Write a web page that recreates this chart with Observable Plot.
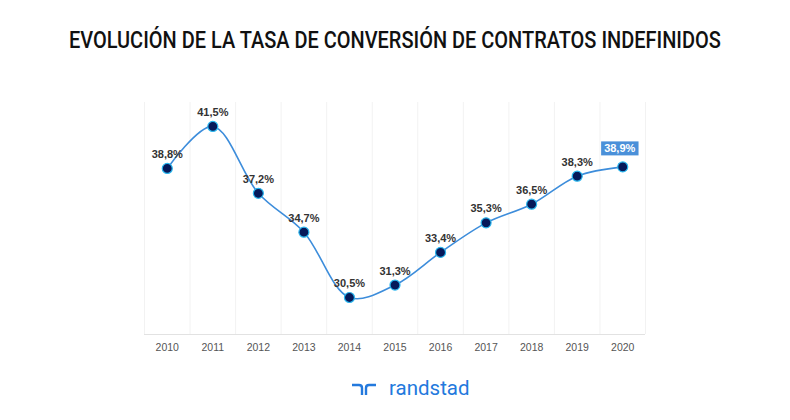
<!DOCTYPE html>
<html>
<head>
<meta charset="utf-8">
<script src="https://cdn.jsdelivr.net/npm/d3@7"></script>
<script src="https://cdn.jsdelivr.net/npm/@observablehq/plot@0.6"></script>
<style>
  html, body { margin: 0; padding: 0; background: #fff; }
  #page { position: relative; width: 790px; height: 420px; overflow: hidden; }
  #title {
    position: absolute; left: 0; top: 26px; width: 790px; height: 32px;
    text-align: center; font-family: Roboto, "Liberation Sans", sans-serif;
    font-weight: 500; font-size: 24px; color: #111; white-space: nowrap;
  }
  #title span { display: inline-block; transform-origin: center; }
  #chart { position: absolute; left: 0; top: 80px; }
  #logo { position: absolute; left: 350px; top: 376px; display: flex; align-items: center; }
  #logo .word { font-family: Roboto, "Liberation Sans", sans-serif; font-size: 20.5px; color: #2379dd; margin-left: 11px; }
</style>
</head>
<body>
<div id="page">
  <div id="title"><span>EVOLUCIÓN DE LA TASA DE CONVERSIÓN DE CONTRATOS INDEFINIDOS</span></div>
  <div id="chart"></div>
  <div id="logo">
    <svg width="28" height="16" viewBox="0 0 28 16">
      <path d="M2 5 H9 Q12 5 12 8 V15" fill="none" stroke="#2379dd" stroke-width="2.4"/>
      <path d="M16 15 V8 Q16 5 19 5 H26" fill="none" stroke="#2379dd" stroke-width="2.4"/>
    </svg>
    <span class="word">randstad</span>
  </div>
</div>
<script>
// Conversion rate of permanent contracts, by year (%)
const years = [2010, 2011, 2012, 2013, 2014, 2015, 2016, 2017, 2018, 2019, 2020];
const rates = [38.8, 41.5, 37.2, 34.7, 30.5, 31.3, 33.4, 35.3, 36.5, 38.3, 38.9];

const data = years.map((year, i) => ({year, rate: rates[i]}));
const fmt = v => v.toFixed(1).replace(".", ",") + "%";
const lastYear = years[years.length - 1];

// Column separators sit halfway between consecutive years
const separators = [...years.map(y => y - 0.5), lastYear + 0.5];
const yDomain = [28.12, 43.04];

const chart = Plot.plot({
  width: 790,
  height: 290,
  marginTop: 22,
  marginBottom: 36,
  marginLeft: 144,
  marginRight: 145,
  style: {fontFamily: "'Liberation Sans', Arial, sans-serif", fontSize: "10.5px", color: "#555", background: "#fff"},
  x: {
    domain: [years[0] - 0.5, lastYear + 0.5],
    ticks: years,
    tickFormat: d => String(d),
    tickSize: 0,
    tickPadding: 9,
    label: null
  },
  y: {domain: yDomain, axis: null},
  marks: [
    Plot.ruleX(separators, {stroke: "#f2f2f2", strokeWidth: 1}),
    Plot.ruleY([yDomain[0]], {stroke: "#e2e2e2", strokeWidth: 1}),
    Plot.line(data, {x: "year", y: "rate", curve: "catmull-rom", stroke: "#3d8ddb", strokeWidth: 1.6}),
    Plot.dot(data, {x: "year", y: "rate", r: 5, fill: "#06195a", stroke: "#2ab6ee", strokeWidth: 1.2}),
    Plot.text(data.filter(d => d.year !== lastYear), {
      x: "year", y: "rate", text: d => fmt(d.rate), dy: -14,
      fill: "#333", fontWeight: "bold", fontSize: 11
    }),
    Plot.text(data.filter(d => d.year === lastYear), {
      x: "year", y: "rate", text: d => fmt(d.rate), dy: -18, dx: -3,
      fill: "#fff", fontWeight: "bold", fontSize: 11
    })
  ]
});
document.getElementById("chart").appendChild(chart);

// Highlight box behind the most recent value
const groups = chart.querySelectorAll('g[aria-label="text"]');
const hl = groups[groups.length - 1];
hl.querySelectorAll("text").forEach(t => {
  const b = t.getBBox();
  const tr = t.getAttribute("transform");
  const rect = document.createElementNS("http://www.w3.org/2000/svg", "rect");
  rect.setAttribute("x", b.x - 3);
  rect.setAttribute("y", b.y - 1);
  rect.setAttribute("width", b.width + 6);
  rect.setAttribute("height", b.height + 2);
  rect.setAttribute("fill", "#4a90d9");
  if (tr) rect.setAttribute("transform", tr);
  hl.insertBefore(rect, t);
});

// Condensed title: fit to its intended width
const span = document.querySelector("#title span");
const w = span.getBoundingClientRect().width;
span.style.transform = `scaleX(${652 / w})`;
</script>
</body>
</html>
